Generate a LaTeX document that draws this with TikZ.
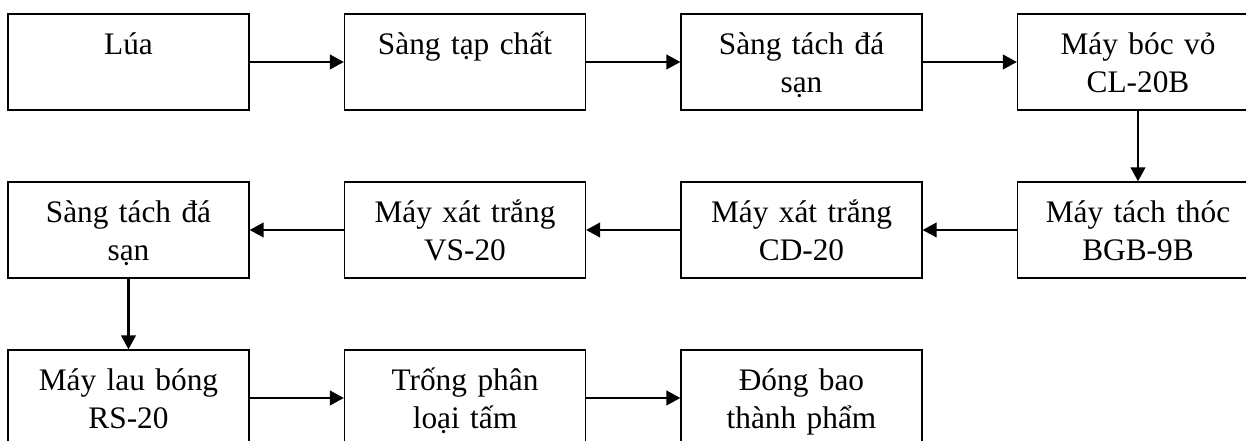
\documentclass[tikz,border=0pt]{standalone}
\usepackage{fontspec}
\setmainfont{Liberation Serif}
\usetikzlibrary{positioning,arrows.meta}

\tikzset{
  khoi/.style={draw,line width=1pt,rectangle,inner xsep=5.375pt,inner ysep=0pt,
    text width=170pt,align=center,text height=30.5pt,text depth=41.5pt,
    font=\fontsize{23.5pt}{28.5pt}\selectfont},
  muiten/.style={line width=1.6pt,-{Triangle[length=10.5pt,width=11pt]}}
}

\begin{document}
\begin{tikzpicture}[node distance=126pt and 252.375pt,on grid]
   \useasboundingbox (0,0) rectangle (934.5pt,-330.75pt);
   % hang 1
   \node[khoi] (lua)      at (96.375pt,-46.5pt) {Lúa};
   \node[khoi] (santap)   [right=of lua]      {Sàng tạp chất};
   \node[khoi] (sangda1)  [right=of santap]   {Sàng tách đá\\sạn};
   \node[khoi] (bocvo)    [right=of sangda1]  {Máy bóc vỏ\\CL-20B};
   % hang 2
   \node[khoi] (tachthoc) [below=of bocvo]    {Máy tách thóc\\BGB-9B};
   \node[khoi] (xatcd)    [left=of tachthoc]  {Máy xát trắng\\CD-20};
   \node[khoi] (xatvs)    [left=of xatcd]     {Máy xát trắng\\VS-20};
   \node[khoi] (sangda2)  [left=of xatvs]     {Sàng tách đá\\sạn};
   % hang 3
   \node[khoi] (laubong)  [below=of sangda2]  {Máy lau bóng\\RS-20};
   \node[khoi] (trongphan)[right=of laubong]  {Trống phân\\loại tấm};
   \node[khoi] (dongbao)  [right=of trongphan]{Đóng bao\\thành phẩm};
    \path[muiten]
    (lua)       edge (santap)
    (santap)    edge (sangda1)
    (sangda1)   edge (bocvo)
    (bocvo)     edge (tachthoc)
    (tachthoc)  edge (xatcd)
    (xatcd)     edge (xatvs)
    (xatvs)     edge (sangda2)
    (sangda2)   edge (laubong)
    (laubong)   edge (trongphan)
    (trongphan) edge (dongbao);
\end{tikzpicture}
\end{document}
